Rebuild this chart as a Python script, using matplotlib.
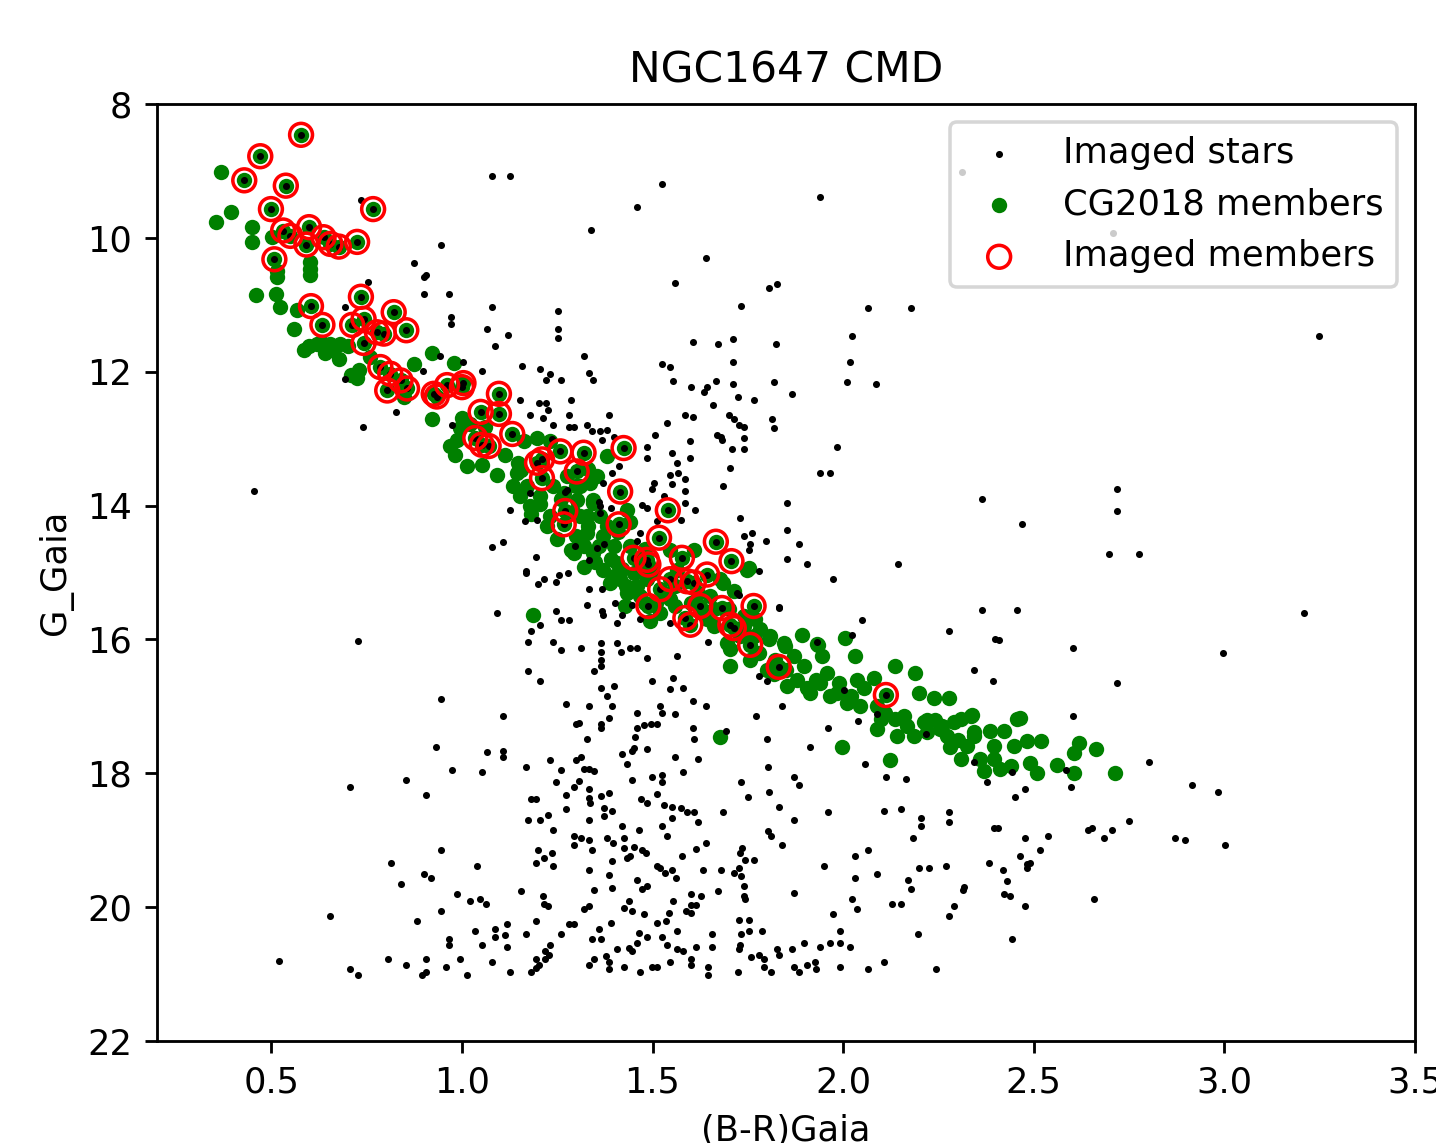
import numpy as np
import matplotlib
matplotlib.use('Agg')
import matplotlib.pyplot as plt

# (B-R)Gaia colour, G_Gaia magnitude

# imaged stars that are not CG2018 members
field_stars = [
    (1.079, 9.08), (1.127, 9.08), (0.734, 9.43), (0.946, 10.11), (0.874, 10.38),
    (0.900, 10.59), (0.907, 10.55), (0.900, 10.84), (0.966, 10.84), (0.753, 10.66),
    (0.694, 11.04), (1.079, 11.04), (1.252, 11.09), (0.972, 11.18), (0.972, 11.28),
    (1.066, 11.36), (1.252, 11.36), (0.694, 12.11), (0.827, 12.60), (0.741, 12.83),
    (0.454, 13.78), (1.079, 14.62), (1.107, 14.54), (1.193, 14.77), (1.167, 14.97),
    (1.197, 14.22),
    (1.087, 11.62), (1.122, 11.45), (1.253, 11.50), (1.319, 11.77), (1.157, 11.92),
    (1.205, 11.96), (1.232, 12.03), (1.221, 12.12), (1.259, 12.12), (1.332, 12.02),
    (1.345, 12.12), (1.052, 11.99), (1.004, 11.85), (0.943, 11.77), (0.899, 11.99),
    (1.153, 12.42), (1.201, 12.46), (1.221, 12.46), (1.227, 12.57), (1.179, 12.64),
    (1.212, 12.69), (1.286, 12.42), (1.280, 12.64), (1.240, 12.79), (1.280, 12.83),
    (1.293, 12.83), (1.328, 12.79), (1.341, 12.89), (1.363, 12.89), (1.380, 12.87),
    (1.387, 12.64), (1.367, 13.02), (1.398, 12.97), (0.973, 12.79), (1.127, 14.06),
    (1.166, 14.23), (1.179, 13.81), (1.275, 13.76), (1.363, 14.01), (1.235, 13.00),
    (1.525, 9.20), (1.460, 9.54), (1.339, 9.88), (1.938, 9.39), (1.639, 10.30),
    (1.559, 10.68), (1.806, 10.75), (1.826, 10.69), (1.731, 11.02), (2.065, 11.05),
    (2.177, 11.05), (2.024, 11.47), (1.606, 11.55), (1.672, 11.58), (1.712, 11.51),
    (1.825, 11.58), (1.526, 11.88), (1.547, 11.93), (1.712, 11.85), (2.018, 11.85),
    (1.553, 12.14), (1.600, 12.23), (1.635, 12.30), (1.644, 12.23), (1.666, 12.14),
    (1.712, 12.19), (1.819, 12.15), (2.011, 12.15), (2.085, 12.19), (1.725, 12.38),
    (1.766, 12.42), (1.865, 12.34), (1.659, 12.49), (1.585, 12.64), (1.606, 12.68),
    (1.700, 12.65), (1.714, 12.70), (1.727, 12.80), (1.740, 12.83), (1.812, 12.70),
    (1.819, 12.84), (1.539, 12.77), (1.506, 12.94), (1.670, 12.94), (1.679, 12.98),
    (1.740, 12.99), (1.985, 13.13), (1.938, 13.51), (1.965, 13.51), (2.364, 13.90),
    (1.552, 13.67), (1.574, 14.22), (1.884, 14.58), (1.852, 14.80), (1.904, 14.88),
    (2.144, 14.88), (1.359, 13.95), (1.355, 14.64), (1.372, 14.57), (1.390, 14.04),
    (2.311, 9.01), (2.709, 9.92),
    (3.247, 11.47), (2.717, 13.75), (2.717, 14.08), (2.470, 14.27), (2.696, 14.73),
    (2.776, 14.73),
    (1.485, 13.12), (1.485, 13.29), (1.551, 13.21), (1.599, 13.29), (1.599, 13.04),
    (1.682, 13.02), (1.708, 13.16), (1.739, 13.16), (1.564, 13.36), (1.704, 13.44),
    (1.393, 13.51), (1.411, 13.41), (1.546, 13.54), (1.568, 13.51), (1.586, 13.61),
    (1.503, 13.66), (1.498, 13.75), (1.586, 13.78), (1.686, 13.70), (1.529, 13.85),
    (1.586, 13.96), (1.472, 13.99), (1.485, 14.04), (1.612, 14.07), (1.511, 14.23),
    (1.730, 14.19), (1.853, 13.96), (1.853, 14.36), (1.761, 14.41), (1.739, 14.46),
    (1.798, 14.53), (1.756, 14.58), (1.752, 14.66), (1.468, 14.41), (1.459, 14.53),
    (1.371, 13.66), (1.363, 14.11), (1.271, 13.79), (1.297, 14.61), (1.332, 14.81),
    (1.778, 14.98), (1.721, 15.30), (1.831, 15.53), (1.279, 15.00), (1.332, 15.25),
    (1.367, 15.25), (1.328, 15.48), (1.367, 15.58), (1.371, 15.63), (1.420, 15.63),
    (1.402, 15.45), (1.446, 15.48), (1.406, 15.75), (1.468, 15.70), (1.546, 15.75),
    (1.726, 15.33),
    (1.167, 15.01), (1.200, 15.17), (1.215, 15.09), (1.247, 15.14), (1.254, 15.03),
    (1.092, 15.60), (1.247, 15.57), (1.261, 15.71), (1.280, 15.71), (1.206, 15.78),
    (1.180, 15.87), (0.728, 16.02), (1.174, 16.04), (1.239, 16.04), (1.260, 16.16),
    (1.174, 16.47), (1.206, 16.62), (0.946, 16.89), (1.107, 17.15), (1.274, 16.96),
    (1.300, 17.26), (0.933, 17.61), (1.066, 17.68), (1.107, 17.67), (1.107, 17.76),
    (1.167, 17.91), (1.232, 17.80), (1.260, 17.95), (1.298, 17.80), (0.707, 18.21),
    (0.854, 18.10), (0.907, 18.32), (0.974, 17.95), (1.053, 17.98), (1.247, 18.13),
    (1.294, 18.21), (1.274, 18.32), (1.180, 18.39), (1.193, 18.39), (1.274, 18.53),
    (1.174, 18.70), (1.206, 18.70), (1.226, 18.63), (1.239, 18.85), (1.294, 18.93),
    (1.294, 19.07), (0.946, 19.15), (0.814, 19.34), (1.040, 19.38), (1.200, 19.15),
    (1.215, 19.26), (1.235, 19.19), (1.193, 19.34), (1.239, 19.38), (0.840, 19.65),
    (0.900, 19.50), (0.920, 19.57), (0.987, 19.80), (1.020, 19.91), (1.047, 19.88),
    (1.062, 19.95), (1.154, 19.76), (1.212, 19.83), (1.215, 19.95), (1.225, 19.98),
    (0.653, 20.13), (0.946, 20.06), (0.881, 20.21), (1.193, 20.21), (1.280, 20.25),
    (1.294, 20.25), (1.034, 20.36), (1.086, 20.32), (1.086, 20.45), (1.119, 20.25),
    (1.114, 20.41), (1.167, 20.40), (1.259, 20.40), (0.967, 20.47), (0.967, 20.56),
    (1.053, 20.56), (1.119, 20.59), (1.232, 20.56), (1.219, 20.66), (1.228, 20.71),
    (1.219, 20.78), (1.193, 20.78), (0.521, 20.80), (0.806, 20.78), (0.854, 20.86),
    (0.907, 20.78), (0.994, 20.78), (0.707, 20.93), (0.728, 21.02), (0.894, 21.02),
    (0.907, 20.97), (0.959, 20.90), (1.014, 21.02), (1.079, 20.82), (1.126, 20.97),
    (1.180, 20.97), (1.193, 20.91), (1.202, 20.86),
    (1.972, 15.09), (1.832, 15.52), (2.364, 15.56), (2.050, 15.71), (2.022, 15.93),
    (2.278, 15.87), (2.344, 16.46), (2.392, 16.62), (2.399, 16.00), (1.932, 16.04),
    (1.645, 16.04), (1.779, 16.54), (1.800, 16.62), (2.002, 16.76), (2.090, 17.11),
    (2.040, 17.22), (2.217, 17.41), (2.344, 17.83), (1.839, 16.99), (1.772, 17.15),
    (1.959, 17.33), (1.799, 17.49), (1.912, 17.60), (1.692, 17.37), (2.057, 17.86),
    (2.112, 18.06), (2.164, 18.09), (2.377, 18.13), (1.313, 16.13), (1.365, 16.06),
    (1.365, 16.18), (1.406, 16.06), (1.416, 16.19), (1.442, 16.13), (1.460, 16.13),
    (1.486, 16.28), (1.565, 16.24), (1.365, 16.30), (1.365, 16.40), (1.346, 16.47),
    (1.499, 16.62), (1.553, 16.58), (1.546, 16.74), (1.580, 16.73), (1.365, 16.73),
    (1.399, 16.69), (1.381, 16.85), (1.606, 16.92), (1.639, 16.99), (1.333, 16.99),
    (1.393, 16.99), (1.307, 17.25), (1.365, 17.27), (1.365, 17.33), (1.387, 17.17),
    (1.460, 17.10), (1.525, 17.10), (1.559, 17.11), (1.519, 16.99), (1.460, 17.32),
    (1.477, 17.28), (1.495, 17.26), (1.512, 17.26), (1.606, 17.33), (1.608, 17.49),
    (1.327, 17.49), (1.453, 17.45), (1.451, 17.62), (1.445, 17.67), (1.486, 17.64),
    (1.421, 17.71), (1.313, 17.75), (1.559, 17.75), (1.619, 17.79), (1.432, 17.86),
    (1.320, 17.93), (1.333, 17.93), (1.346, 17.97), (1.307, 18.12), (1.447, 18.10),
    (1.499, 18.06), (1.525, 18.02), (1.525, 18.13), (1.580, 17.98), (1.731, 18.13),
    (1.804, 17.91), (1.871, 18.05), (1.884, 18.17), (1.333, 18.24), (1.333, 18.37),
    (1.364, 18.34), (1.385, 18.29), (1.337, 18.44), (1.372, 18.52), (1.469, 18.39),
    (1.486, 18.45), (1.512, 18.31), (1.530, 18.47), (1.550, 18.51), (1.574, 18.52),
    (1.591, 18.58), (1.610, 18.58), (1.751, 18.35), (1.805, 18.28), (1.832, 18.51),
    (1.686, 18.58), (1.333, 18.69), (1.372, 18.64), (1.394, 18.57), (1.420, 18.78),
    (1.464, 18.84), (1.525, 18.78), (1.552, 18.67), (1.619, 18.73), (1.539, 18.93),
    (1.313, 18.97), (1.333, 19.00), (1.342, 19.15), (1.381, 18.96), (1.396, 19.04),
    (1.425, 18.96), (1.425, 19.11), (1.451, 19.10), (1.473, 19.15), (1.482, 19.19),
    (1.639, 19.04), (1.613, 19.13), (1.578, 19.23), (1.804, 18.86), (1.810, 18.93),
    (1.839, 19.07), (1.871, 18.69), (1.959, 18.58), (1.735, 19.11), (1.729, 19.19),
    (1.742, 19.30), (1.766, 19.30), (1.394, 19.31), (1.432, 19.27), (1.442, 19.24),
    (1.512, 19.39), (1.519, 19.41), (1.532, 19.49), (1.552, 19.45), (1.561, 19.56),
    (1.333, 19.45), (1.387, 19.52), (1.633, 19.45), (1.679, 19.45), (1.714, 19.49),
    (1.727, 19.41), (1.731, 19.54), (1.460, 19.60), (1.486, 19.68), (1.473, 19.73),
    (1.393, 19.71), (1.346, 19.75), (1.740, 19.68), (1.672, 19.76), (1.740, 19.84),
    (1.742, 19.88), (1.600, 19.81), (1.626, 19.83), (1.553, 19.91), (1.438, 19.91),
    (1.425, 20.01), (1.447, 20.06), (1.477, 20.10), (1.320, 20.02), (1.333, 19.98),
    (1.587, 20.06), (1.600, 19.96), (1.613, 19.96), (1.600, 20.09), (1.543, 20.09),
    (1.512, 20.23), (1.534, 20.21), (1.390, 20.23), (1.359, 20.33), (1.342, 20.47),
    (1.365, 20.47), (1.464, 20.38), (1.486, 20.45), (1.525, 20.45), (1.565, 20.36),
    (1.539, 20.56), (1.657, 20.40), (1.657, 20.59), (1.727, 20.19), (1.753, 20.19),
    (1.731, 20.40), (1.753, 20.36), (1.786, 20.36), (1.729, 20.56), (1.727, 20.63),
    (1.871, 19.79), (1.950, 19.38), (2.031, 19.23), (2.064, 19.15), (2.031, 19.56),
    (2.090, 19.50), (2.024, 19.88), (2.037, 20.02), (1.972, 20.10), (1.992, 20.36),
    (2.129, 19.95), (2.151, 19.95), (2.169, 19.60), (2.177, 19.73), (2.199, 19.41),
    (2.224, 19.41), (2.269, 19.38), (2.313, 19.74), (2.317, 19.70), (2.291, 19.98),
    (2.278, 20.13), (2.184, 18.97), (2.107, 18.57), (2.151, 18.54), (2.203, 18.67),
    (2.203, 18.79), (2.278, 18.58), (2.278, 18.73), (2.396, 18.81), (2.383, 19.34),
    (2.197, 20.40), (1.407, 20.62), (1.438, 20.61), (1.447, 20.66), (1.460, 20.54),
    (1.565, 20.63), (1.580, 20.66), (1.613, 20.59), (1.333, 20.86), (1.346, 20.78),
    (1.377, 20.73), (1.387, 20.82), (1.387, 20.93), (1.425, 20.89), (1.466, 20.97),
    (1.499, 20.90), (1.512, 20.90), (1.546, 20.82), (1.600, 20.78), (1.600, 20.86),
    (1.646, 20.90), (1.646, 21.02), (1.725, 20.97), (1.757, 20.74), (1.779, 20.71),
    (1.792, 20.78), (1.792, 20.90), (1.810, 20.97), (1.826, 20.62), (1.832, 20.71),
    (1.865, 20.63), (1.871, 20.90), (1.884, 20.97), (1.897, 20.54), (1.906, 20.86),
    (1.925, 20.82), (1.930, 20.93), (1.938, 20.59), (1.965, 20.54), (1.992, 20.54),
    (2.018, 20.59), (1.992, 20.90), (2.064, 20.93), (2.106, 20.82), (2.243, 20.93),
    (2.457, 15.56), (3.208, 15.60), (2.409, 16.01), (2.603, 16.13), (2.995, 16.20),
    (2.717, 16.65), (2.603, 17.15), (2.803, 17.83), (2.444, 17.98), (2.584, 17.95),
    (2.597, 18.21), (2.477, 18.24), (2.450, 18.36), (2.916, 18.17), (2.982, 18.28),
    (2.750, 18.71), (2.643, 18.85), (2.652, 18.82), (2.683, 18.97), (2.704, 18.85),
    (2.405, 18.82), (2.477, 18.97), (2.536, 18.93), (2.517, 19.15), (2.463, 19.23),
    (2.483, 19.36), (2.490, 19.34), (2.482, 19.41), (2.418, 19.45), (2.431, 19.61),
    (2.422, 19.80), (2.437, 19.84), (2.477, 19.98), (2.657, 19.88), (2.870, 18.97),
    (2.896, 19.00), (3.002, 19.07), (2.444, 20.48),
]

# CG2018 members that were not imaged
members = [
    (0.368, 9.01), (0.394, 9.62), (0.354, 9.77), (0.448, 9.84), (0.448, 10.06),
    (0.502, 9.99), (0.602, 10.36), (0.602, 10.46), (0.602, 10.56), (0.515, 10.49),
    (0.515, 10.59), (0.461, 10.86), (0.511, 10.84), (0.522, 11.04), (0.567, 11.08),
    (0.559, 11.36), (0.585, 11.68), (0.620, 11.58), (0.655, 11.58), (0.681, 11.58),
    (0.600, 11.62), (0.630, 11.55), (0.660, 11.68), (0.700, 11.62), (0.640, 11.72),
    (0.677, 11.81), (0.729, 11.98), (0.725, 12.10), (0.710, 12.05), (0.760, 11.78),
    (0.874, 11.88), (0.922, 12.70), (0.847, 12.38), (1.022, 12.78), (1.154, 13.47),
    (1.206, 13.97), (1.180, 14.12), (1.285, 14.67),
    (0.921, 11.72), (0.978, 11.87), (0.999, 12.69), (1.061, 12.82), (0.969, 13.11),
    (0.982, 13.24), (1.013, 13.41), (1.052, 13.39), (1.092, 13.54), (1.113, 13.24),
    (1.148, 13.36), (1.144, 13.51), (1.135, 13.71), (1.170, 13.71), (1.153, 13.86),
    (1.197, 12.99), (1.232, 13.04), (1.179, 14.01), (1.205, 13.86), (1.240, 13.71),
    (1.267, 13.81), (1.232, 14.16), (1.223, 14.31), (1.301, 13.91), (1.337, 13.66),
    (1.354, 13.56), (1.328, 14.16), (1.345, 13.96), (1.380, 13.26), (1.380, 14.31),
    (1.433, 14.06), (0.995, 12.84), (0.987, 13.02), (1.162, 13.04),
    (1.275, 13.56), (1.310, 13.71), (1.345, 13.91), (1.310, 14.16), (1.363, 14.16),
    (1.328, 14.41), (1.371, 14.46), (1.293, 14.71), (1.345, 14.71), (1.398, 14.61),
    (1.319, 14.91), (1.371, 14.96), (1.406, 14.86), (1.415, 15.10), (1.459, 15.20),
    (1.485, 15.10), (1.433, 15.30), (1.546, 14.66), (1.608, 14.66), (1.564, 14.96),
    (1.678, 15.10), (1.713, 15.28), (1.748, 14.96), (1.546, 15.40), (1.651, 15.35),
    (1.520, 15.60), (1.494, 15.73), (1.643, 15.70), (1.660, 15.80), (1.783, 15.85),
    (1.809, 15.95), (1.739, 15.65), (1.468, 15.35), (1.389, 15.15), (1.428, 15.50),
    (1.260, 13.90), (1.290, 14.10), (1.330, 14.30), (1.360, 14.60), (1.390, 14.80),
    (1.420, 14.95), (1.450, 15.00), (1.300, 14.45), (1.410, 14.40), (1.440, 14.60),
    (1.470, 14.90), (1.500, 15.00), (1.530, 15.30), (1.560, 15.50), (1.600, 15.45),
    (1.630, 15.60), (1.250, 14.50), (1.320, 14.60), (1.350, 14.85), (1.400, 15.05),
    (1.430, 15.20), (1.480, 15.45), (1.510, 15.45), (1.560, 15.20), (1.620, 15.30),
    (1.660, 15.55), (1.700, 15.55), (1.740, 15.80), (1.770, 15.70), (1.440, 14.25),
    (1.480, 14.65), (1.300, 13.70), (1.330, 13.45),
    (1.752, 14.93), (1.686, 15.15), (1.805, 16.00), (1.892, 15.93), (1.848, 16.10),
    (1.931, 16.07), (1.944, 16.25), (2.006, 15.98), (2.032, 16.25), (2.137, 16.40),
    (2.189, 16.50), (2.198, 16.80), (2.238, 16.87), (2.277, 16.87), (1.704, 16.15),
    (1.704, 16.40), (1.756, 16.30), (1.870, 16.25), (1.896, 16.40), (1.879, 16.60),
    (1.905, 16.72), (1.958, 16.50), (1.940, 16.65), (1.966, 16.85), (2.036, 16.60),
    (2.080, 16.57), (2.054, 16.72), (2.010, 16.95), (2.045, 17.00), (2.088, 17.00),
    (2.098, 17.19), (2.137, 17.19), (2.168, 17.29), (2.211, 17.24), (2.220, 17.39),
    (2.255, 17.34), (2.290, 17.24), (2.334, 17.14), (2.343, 17.39), (2.386, 17.37),
    (2.421, 17.37), (2.456, 17.19), (2.088, 17.34), (2.141, 17.44), (2.185, 17.44),
    (2.272, 17.44), (1.818, 16.52), (1.853, 16.70), (1.914, 16.80), (1.984, 16.80),
    (1.765, 15.95), (1.730, 15.95), (1.695, 16.05), (1.780, 16.20), (1.820, 16.30),
    (1.800, 16.45), (1.850, 16.45), (1.930, 16.60), (1.990, 16.65), (2.020, 16.85),
    (2.110, 17.10), (2.160, 17.15), (2.240, 17.20),
    (1.998, 17.60), (2.122, 17.80), (1.677, 17.45), (1.934, 16.08), (1.845, 16.06),
    (2.339, 17.13), (2.221, 17.20), (1.186, 15.63),
    (2.308, 17.19), (2.465, 17.17), (2.343, 17.44), (2.325, 17.59), (2.395, 17.59),
    (2.448, 17.59), (2.483, 17.52), (2.518, 17.52), (2.360, 17.79), (2.395, 17.79),
    (2.439, 17.89), (2.491, 17.84), (2.509, 17.99), (2.369, 17.97), (2.412, 17.94),
    (2.308, 17.79), (2.561, 17.87), (2.605, 17.69), (2.618, 17.54), (2.605, 17.99),
    (2.662, 17.64), (2.714, 17.99), (2.280, 17.60), (2.300, 17.50), (2.260, 17.30),
]

# CG2018 members that were imaged
imaged_members = [
    (0.578, 8.46), (0.471, 8.78), (0.429, 9.14), (0.538, 9.22), (0.499, 9.57),
    (0.767, 9.57), (0.531, 9.89), (0.550, 9.97), (0.599, 9.84), (0.592, 10.10),
    (0.637, 9.99), (0.655, 10.09), (0.677, 10.13), (0.725, 10.06), (0.508, 10.32),
    (0.735, 10.88), (0.604, 11.02), (0.634, 11.30), (0.821, 11.11), (0.854, 11.38),
    (0.712, 11.30), (0.742, 11.21), (0.777, 11.41), (0.795, 11.43), (0.742, 11.57),
    (0.786, 11.93), (0.812, 12.03), (0.839, 12.13), (0.804, 12.28), (0.856, 12.25),
    (0.926, 12.33), (0.934, 12.37), (0.961, 12.20), (1.000, 12.23), (1.004, 12.17),
    (1.049, 12.60), (1.097, 12.33), (1.097, 12.63), (1.132, 12.93), (1.035, 12.99),
    (1.052, 13.09), (1.070, 13.11), (1.210, 13.31), (1.197, 13.36), (1.210, 13.59),
    (1.258, 13.19), (1.319, 13.21), (1.301, 13.49), (1.424, 13.14), (1.415, 13.79),
    (1.271, 14.08), (1.267, 14.28), (1.411, 14.28), (1.540, 14.07), (1.517, 14.48),
    (1.666, 14.54), (1.707, 14.83), (1.450, 14.78), (1.485, 14.81), (1.489, 14.88),
    (1.577, 14.78), (1.643, 15.03), (1.546, 15.10), (1.590, 15.13), (1.608, 15.15),
    (1.520, 15.25), (1.489, 15.50), (1.586, 15.68), (1.599, 15.78), (1.625, 15.50),
    (1.682, 15.53), (1.765, 15.50), (1.704, 15.78), (1.713, 15.83), (1.756, 16.08),
    (1.831, 16.41), (2.112, 16.83),
]

field = np.array(field_stars).T
memb = np.array(members).T
imgm = np.array(imaged_members).T

# every imaged member is also an imaged star and a CG2018 member
all_imaged = np.hstack([field, imgm])
all_members = np.hstack([memb, imgm])

fig = plt.figure(figsize=(1436/254.0, 1143/254.0), dpi=254)
ax = fig.add_axes([0.1093, 0.0892, 0.8761, 0.8198])

ax.scatter(all_imaged[0], all_imaged[1], s=4, c='k', linewidths=0,
           zorder=3, label='Imaged stars')
ax.scatter(all_members[0], all_members[1], s=19, c='green', linewidths=0,
           zorder=2, label='CG2018 members')
ax.scatter(imgm[0], imgm[1], s=42, facecolors='none', edgecolors='red',
           linewidths=1.0, zorder=4, label='Imaged members')

ax.set_xlim(0.2, 3.5)
ax.set_ylim(22, 8)
ax.set_xticks(np.arange(0.5, 3.51, 0.5))
ax.set_yticks(np.arange(8, 22.1, 2))
ax.set_xlabel('(B-R)Gaia')
ax.set_ylabel('G_Gaia')
ax.set_title('NGC1647 CMD')
ax.legend(loc='upper right')

fig.savefig('out.png', dpi=254)
